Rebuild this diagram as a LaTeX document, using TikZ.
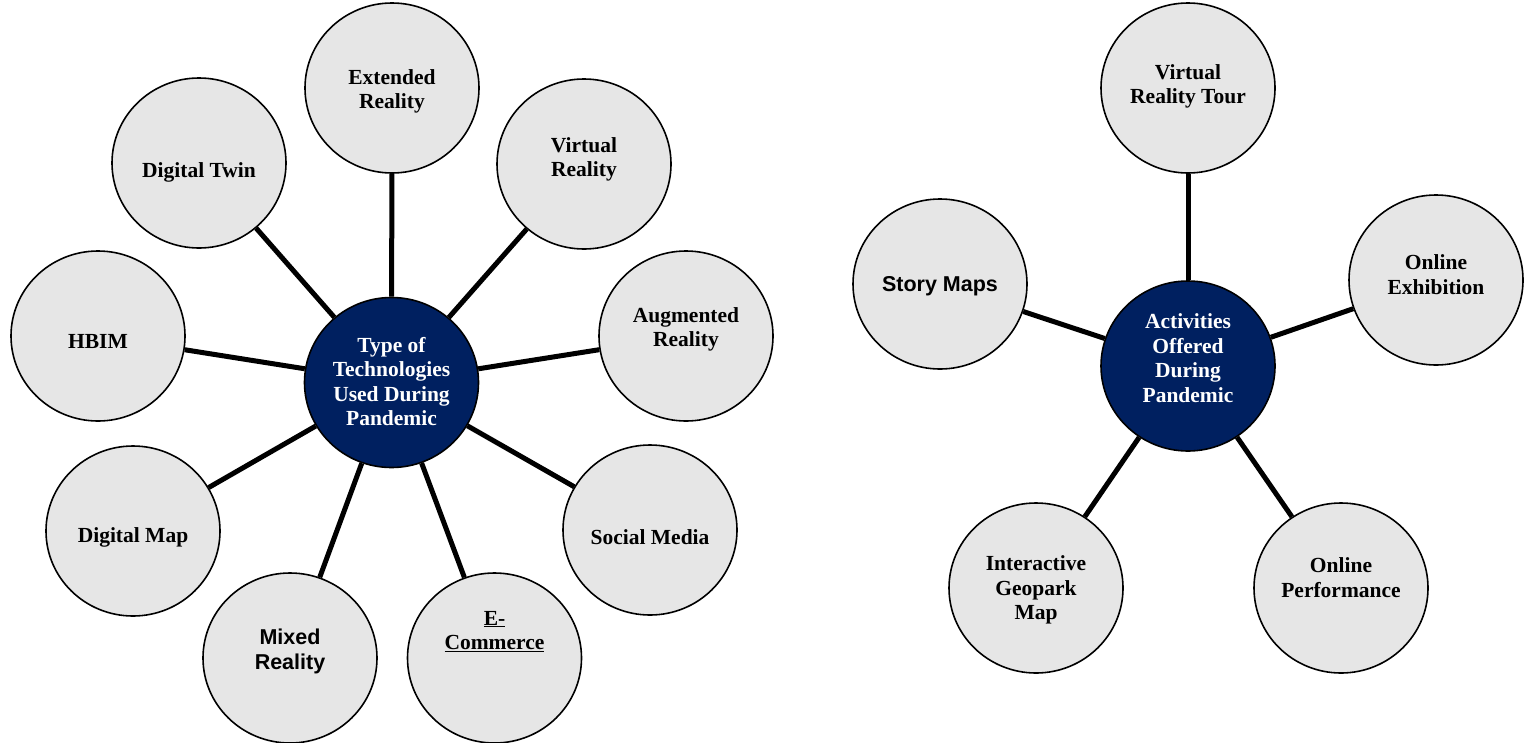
\documentclass[tikz,border=0pt]{standalone}
\usepackage{fontspec}
\setmainfont{Liberation Serif}
\newfontfamily\arialfont{Liberation Sans}
\usetikzlibrary{shapes.geometric}
\definecolor{bubblegray}{HTML}{E6E6E6}
\definecolor{hubblue}{HTML}{002060}

\begin{document}
\begin{tikzpicture}[x=1pt,y=-1pt,
  bubble/.style={ellipse, draw=black, line width=1.6pt, fill=bubblegray,
    minimum width=174pt, minimum height=170pt, inner sep=0pt},
  hub/.style={bubble, fill=hubblue},
  caption/.style={font=\fontsize{21.5}{24.5}\selectfont\bfseries, align=center,
    inner sep=0pt, yshift=-3pt},
  hubcaption/.style={caption, text=white},
  sanscaption/.style={caption, font=\fontsize{21.5}{24.5}\selectfont\arialfont\bfseries},
  link/.style={line width=5pt}]
\useasboundingbox (0,0) rectangle (1528,742);

% ---------- technologies ----------
\node[hub]    (tech)  at (391.5,382.5) {};
\node[bubble] (xr)    at (392,88)  {};
\node[bubble] (twin)  at (199,163) {};
\node[bubble] (vr)    at (584,164) {};
\node[bubble] (hbim)  at (98,336)  {};
\node[bubble] (ar)    at (686,336) {};
\node[bubble] (dmap)  at (133,531) {};
\node[bubble] (social) at (650,530) {};
\node[bubble] (mixed) at (290,658) {};
\node[bubble] (ecom)  at (494.5,658) {};

\foreach \n in {xr,twin,vr,hbim,ar,dmap,social,mixed,ecom}
  \draw[link] (tech) -- (\n);

\node[hubcaption] (techtxt) at (391.5,378.5) {Type of\\Technologies\\Used During\\Pandemic};
\node[caption] (xrtxt)    at (392,88.5)  {Extended\\Reality};
\node[caption] (twintxt)  at (199,169)   {Digital Twin};
\node[caption] (vrtxt)    at (584,156.5) {Virtual\\Reality};
\node[caption] (hbimtxt)  at (98,338)    {HBIM};
\node[caption] (artxt)    at (686,326.5) {Augmented\\Reality};
\node[caption] (dmaptxt)  at (133,534)   {Digital Map};
\node[caption] (socialtxt) at (650,534)  {Social Media};
\node[sanscaption] (mixedtxt) at (290,648.5) {Mixed\\Reality};
\node[caption] (ecomtxt)  at (494.5,628.5) {\underline{E-}\\\underline{Commerce}};

% ---------- activities ----------
\node[hub]    (act)   at (1188,366) {};
\node[bubble] (tour)  at (1188,88)  {};
\node[bubble] (story) at (940,284)  {};
\node[bubble] (exhib) at (1436,280) {};
\node[bubble] (geo)   at (1036,588) {};
\node[bubble] (perf)  at (1341,588) {};

\foreach \n in {tour,story,exhib,geo,perf}
  \draw[link] (act) -- (\n);

\node[hubcaption] (acttxt) at (1188,355) {Activities\\Offered\\During\\Pandemic};
\node[caption] (tourtxt)  at (1188,83.5)  {Virtual\\Reality Tour};
\node[sanscaption] (storytxt) at (940,283) {Story Maps};
\node[caption] (exhibtxt) at (1436,271.5) {Online\\Exhibition};
\node[caption] (geotxt)   at (1036,587)   {Interactive\\Geopark\\Map};
\node[caption] (perftxt)  at (1341,574.5) {Online\\Performance};
\end{tikzpicture}
\end{document}
